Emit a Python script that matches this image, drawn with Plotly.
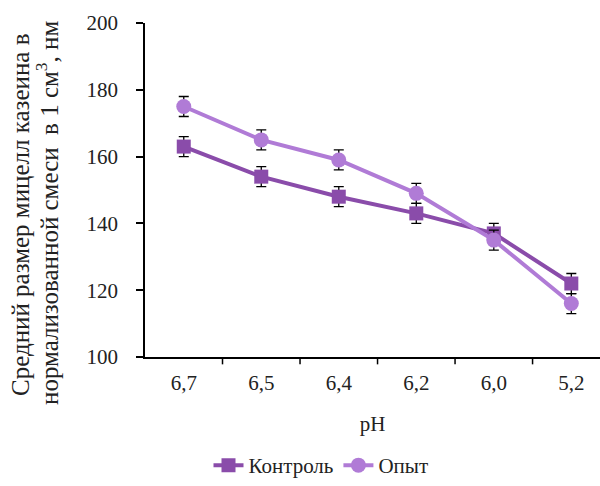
import plotly.graph_objects as go

categories = ["6,7", "6,5", "6,4", "6,2", "6,0", "5,2"]
control = [163, 154, 148, 143, 137, 122]
experiment = [175, 165, 159, 149, 135, 116]
control_err = [3, 3, 3, 3, 3, 3]
experiment_err = [3, 3, 3, 3, 3, 3]
y_title_lines = ["Средний размер мицелл казеина в",
                 "нормализованной смеси  в 1 см<sup>3</sup>, нм"]

font_family = "Liberation Serif"
fnt = lambda s: dict(family=font_family, size=s, color="#222")

fig = go.Figure()
fig.add_trace(go.Scatter(
    x=list(range(len(categories))), y=control, name="Контроль",
    mode="lines+markers",
    line=dict(color="#8A4CAA", width=4),
    marker=dict(symbol="square", size=14, color="#8A4CAA"),
    error_y=dict(type="data", array=control_err, color="black", thickness=1.3, width=5),
))
fig.add_trace(go.Scatter(
    x=list(range(len(categories))), y=experiment, name="Опыт",
    mode="lines+markers",
    line=dict(color="#B07BD6", width=4),
    marker=dict(symbol="circle", size=15, color="#B07BD6"),
    error_y=dict(type="data", array=experiment_err, color="black", thickness=1.3, width=5),
))

L, T, B, W, H = 145, 23, 129, 600, 486
PW = W - L
PH = H - T - B

fig.update_layout(
    width=W, height=H,
    margin=dict(l=L, r=0, t=T, b=B, autoexpand=False),
    paper_bgcolor="white", plot_bgcolor="white",
    font=fnt(21),
    showlegend=True,
    legend=dict(orientation="h", x=0.535, xanchor="center", xref="container",
                y=0.0, yanchor="bottom", yref="container",
                font=fnt(21), itemwidth=30),
    xaxis=dict(
        tickmode="array", tickvals=list(range(len(categories))), ticktext=categories,
        range=[-0.5, 5.37], showline=True, linecolor="black", linewidth=1.5,
        ticks="", showgrid=False, zeroline=False, automargin=False,
        ticklabelstandoff=6,
        title=dict(text="pH", standoff=22, font=fnt(21)),
        tickfont=fnt(21),
    ),
    yaxis=dict(
        range=[100, 200], tickvals=[100, 120, 140, 160, 180, 200],
        showline=True, linecolor="black", linewidth=1.5,
        ticks="outside", ticklen=7, tickcolor="black", tickwidth=1.5,
        showgrid=False, zeroline=False, automargin=False,
        ticklabelstandoff=14,
        tickfont=fnt(21),
    ),
)

# rotated y-axis title, two lines
for txt, px, py in [(y_title_lines[0], 20, 215), (y_title_lines[1], 47, 213)]:
    fig.add_annotation(text=txt, textangle=-90, showarrow=False,
                       xref="paper", yref="paper",
                       x=(px - L) / PW, y=(H - B - py) / PH,
                       xanchor="center", yanchor="middle",
                       font=fnt(25))

# category boundary ticks on x axis
for b in [0.5, 1.5, 2.5, 3.5, 4.5]:
    fig.add_shape(type="line", xref="x", yref="paper", x0=b, x1=b, y0=0, y1=-0.022,
                  line=dict(color="black", width=1.5))

fig.write_html("out.html", config={"displayModeBar": False},
               post_script="document.body.style.margin='0';document.body.style.overflow='hidden';")
